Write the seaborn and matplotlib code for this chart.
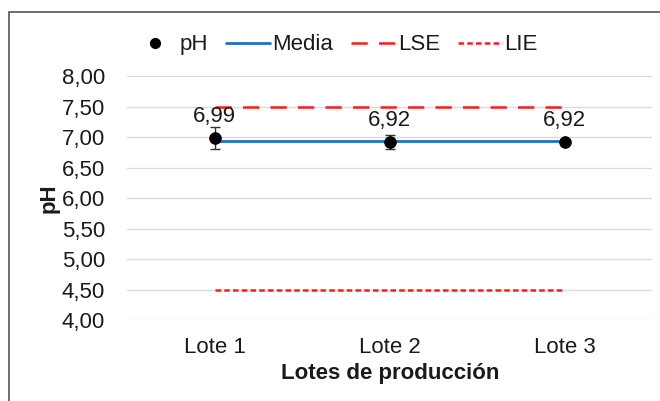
import matplotlib
matplotlib.use("Agg")
import matplotlib.pyplot as plt
import seaborn as sns
import pandas as pd
from matplotlib.lines import Line2D
from matplotlib.patches import Rectangle

lotes = ["Lote 1", "Lote 2", "Lote 3"]
ph = [6.99, 6.92, 6.92]
ph_err = [0.18, 0.11, 0.02]
media = [6.94, 6.94, 6.94]
lse = [7.5, 7.5, 7.5]
lie = [4.5, 4.5, 4.5]
yticks = [4.0, 4.5, 5.0, 5.5, 6.0, 6.5, 7.0, 7.5, 8.0]

sns.set_theme(style="white")
plt.rcParams["font.family"] = ["Liberation Sans", "DejaVu Sans"]

df = pd.DataFrame({"Lote": lotes, "pH": ph, "err": ph_err,
                   "Media": media, "LSE": lse, "LIE": lie})

fig = plt.figure(figsize=(6.6, 4.01), dpi=100)
ax = fig.add_axes([0.193, 0.202, 0.795, 0.608])

txt = "#1a1a1a"
fs = 16

# reference limits and the mean line
sns.lineplot(data=df, x="Lote", y="LSE", ax=ax, color="#ff1a1a", lw=1.8,
             linestyle=(0, (6.5, 4.5)), sort=False)
sns.lineplot(data=df, x="Lote", y="LIE", ax=ax, color="#ff1a1a", lw=1.8,
             linestyle=(0, (2.2, 1.3)), sort=False)
sns.lineplot(data=df, x="Lote", y="Media", ax=ax, color="#1f6fc5", lw=2.0,
             sort=False)

# measured pH with its spread
ax.errorbar(range(len(lotes)), ph, yerr=ph_err, fmt="none", ecolor="#333333",
            elinewidth=1.0, capsize=3.5, capthick=1.0, zorder=3)
sns.scatterplot(data=df, x="Lote", y="pH", ax=ax, color="black", s=70,
                edgecolor="black", zorder=4)

for i, v in enumerate(ph):
    ax.text(i, v + 0.18, f"{v:.2f}".replace(".", ","), ha="center",
            va="bottom", fontsize=fs, color=txt)

ax.set_xlim(-0.5, 2.5)
ax.set_ylim(4.0, 8.0)
ax.set_yticks(yticks)
ax.set_yticklabels([f"{t:.2f}".replace(".", ",") for t in yticks])
ax.tick_params(axis="both", labelsize=fs, colors=txt, length=0)
ax.tick_params(axis="y", pad=16)
ax.tick_params(axis="x", pad=12)
ax.yaxis.grid(True, color="#dcdcdc", lw=1.0)
ax.xaxis.grid(False)
for s in ax.spines.values():
    s.set_visible(False)

ax.set_xlabel("Lotes de producción", fontsize=fs, fontweight="bold",
              color=txt, labelpad=4)
ax.set_ylabel("pH", fontsize=fs, fontweight="bold", color=txt, labelpad=2)

handles = [
    Line2D([], [], marker="o", color="black", lw=0, markersize=7),
    Line2D([], [], color="#1f6fc5", lw=2.0),
    Line2D([], [], color="#ff1a1a", lw=1.8, linestyle=(0, (6.5, 4.5))),
    Line2D([], [], color="#ff1a1a", lw=1.8, linestyle=(0, (2.2, 1.3))),
]
fig.legend(handles, ["pH", "Media", "LSE", "LIE"], ncol=4,
           loc="center", bbox_to_anchor=(0.508, 0.888), frameon=False,
           fontsize=fs, handlelength=2.0, handletextpad=0.1,
           columnspacing=0.8, labelcolor=txt)

fig.add_artist(Rectangle((0.014, -0.01), 1.0, 0.98, transform=fig.transFigure,
                         fill=False, edgecolor="#555555", lw=1.2))

fig.savefig("out.png", dpi=100)
